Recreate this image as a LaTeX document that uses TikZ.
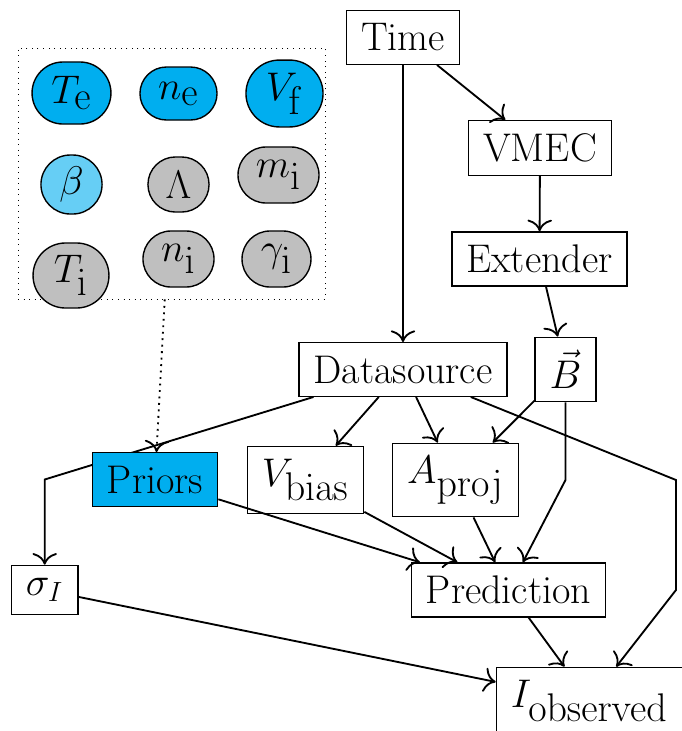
\documentclass[tikz,border=0pt]{standalone}
\usepackage{amsmath}
\usetikzlibrary{arrows.meta,shapes.misc,backgrounds}
\definecolor{parblue}{RGB}{0,174,239}
\colorlet{parlight}{parblue!60}
\colorlet{pargray}{black!25}
\tikzset{
  box/.style   = {draw, semithick, rectangle, inner xsep=6.3pt, inner ysep=5.6pt, align=center},
  param/.style = {draw, semithick, rounded rectangle, inner sep=0pt},
  psize/.style 2 args = {minimum width=#1, minimum height=#2},
  sig/.style   = {-{To[scale=1.5]}, thick},
}
\newcommand{\lsub}[1]{_{\textstyle\mathrm{#1}}}

\begin{document}
\begin{tikzpicture}[x=0.432pt,y=-0.432pt,font=\LARGE]
\path[use as bounding box,clip] (0,0) rectangle (682,731);
% parameter group
\node[draw,dotted,minimum width=132.6pt,minimum height=108.4pt] (params) at (171.5,173.5) {};
\node[param,psize={34.1pt}{26.8pt},fill=parblue] (Te) at (71.5,93) {$T\lsub{e}$};
\node[param,psize={33.3pt}{22.9pt},fill=parblue] (ne) at (178.5,93.5) {$n\lsub{e}$};
\node[param,psize={33.3pt}{28.9pt},fill=parblue] (Vf) at (284.5,93.5) {$V\lsub{f}$};
\node[param,psize={26.4pt}{25.5pt},fill=parlight] (beta) at (71.5,184.5) {$\beta$};
\node[param,psize={26.4pt}{23.8pt},fill=pargray] (Lam) at (178.5,184.5) {$\Lambda$};
\node[param,psize={35.0pt}{24.2pt},fill=pargray] (mi) at (278.5,175) {$m\lsub{i}$};
\node[param,psize={32.8pt}{28.1pt},fill=pargray] (Ti) at (71,275.5) {$T\lsub{i}$};
\node[param,psize={30.7pt}{24.2pt},fill=pargray] (ni) at (178.5,259) {$n\lsub{i}$};
\node[param,psize={29.8pt}{24.2pt},fill=pargray] (gi) at (276.5,259) {$\gamma\lsub{i}$};
% model chain
\node[box] (time) at (403,37.5) {Time};
\node[box] (vmec) at (540,148) {VMEC};
\node[box] (ext) at (539.5,259) {Extender};
\node[box] (ds) at (403,369.5) {Datasource};
\node[box] (bvec) at (565.5,369.5) {$\vec{B}$};
\node[box] (vbias) at (305.5,480) {$V\lsub{bias}$};
\node[box] (aproj) at (455.5,480) {$A\lsub{proj}$};
\node[box,fill=parblue] (priors) at (155,479.5) {Priors};
\node[box] (sigI) at (44.7,590) {$\sigma_I$};
\node[box] (pred) at (508.5,590) {Prediction};
\node[box] (iobs) at (589.5,701) {$I\lsub{observed}$};
\coordinate (k1) at (676,480);
\coordinate (k2) at (676,590);
% connectors
\draw[sig] (time) -- (vmec);
\draw[sig] (time) -- (ds);
\draw[sig] (vmec) -- (ext);
\draw[sig] (ext) -- (bvec);
\draw[sig] (ds) -- (vbias);
\draw[sig] (ds) -- (aproj);
\draw[sig] (bvec) -- (aproj);
\draw[sig] (bvec) -- (bvec |- aproj) -- (pred);
\draw[sig] (ds) -- (k1) -- (k2) -- (iobs);
\begin{pgfonlayer}{background}
\draw[sig] (ds) -- (sigI |- priors) -- (sigI);
\end{pgfonlayer}
\draw[sig,dotted] (params) -- (priors);
\draw[sig] (priors) -- (pred);
\draw[sig] (vbias) -- (pred);
\draw[sig] (aproj) -- (pred);
\draw[sig] (pred) -- (iobs);
\draw[sig] (sigI) -- (iobs);
\end{tikzpicture}
\end{document}
